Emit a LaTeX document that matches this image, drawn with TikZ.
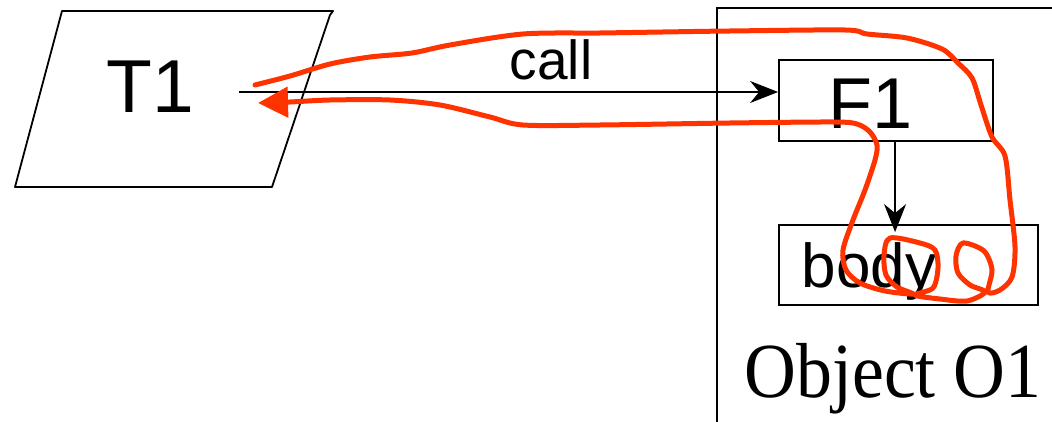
\documentclass[tikz,border=0pt]{standalone}
\usepackage{fontspec}
\setmainfont{Liberation Sans}
\newfontfamily\timesfont{Liberation Serif}
\usetikzlibrary{arrows.meta,calc}
\definecolor{pen}{RGB}{255,51,0}
\begin{document}
\begin{tikzpicture}[x=1pt,y=-1pt,
  boxline/.style={draw=black, line width=1.8pt},
  arr/.style={draw=black, line width=1.4pt, -{Stealth[length=28pt,width=22pt,inset=9pt]}},
  lbl/.style={anchor=base, inner sep=0pt},
  redpen/.style={draw=pen, line width=5pt, line cap=round, line join=round}]
\useasboundingbox (0,0) rectangle (1052,422);
\clip (0,0) rectangle (1052,422);
% T1 parallelogram
\draw[boxline, line join=round] (62,11) -- (333,11) -- (330,15) -- (272,187) -- (15,187) -- cycle;
\node[lbl, font=\fontsize{75}{80}\selectfont] (T1) at (150,113) {T1};
% Object O1 frame
\draw[boxline] (717,430) -- (717,8) -- (1060,8);
\node[lbl, font=\timesfont\fontsize{78}{80}\selectfont] (O1) at (893,397) {\scalebox{0.92}[1]{Object O1}};
% F1 box
\node[boxline, minimum width=214pt, minimum height=81pt, inner sep=0pt] (F1box) at (886,100.5) {};
\node[lbl, font=\fontsize{72}{76}\selectfont] (F1) at (871,129) {F1};
% body box
\node[boxline, minimum width=259pt, minimum height=80pt, inner sep=0pt] (bodybox) at (908.5,265) {};
\node[lbl, font=\fontsize{62}{66}\selectfont] (body) at (869,287) {body};
% call arrow
\coordinate (t1out) at (239,92);
\draw[arr] (t1out) -- (t1out -| F1box.west);
\node[lbl, font=\fontsize{55}{60}\selectfont] (call) at (551,80) {call};
% F1 -> body
\coordinate (fdown) at ($(F1box.south west)!0.542!(F1box.south east)$);
\draw[arr, shorten >=-8pt] (fdown) -- (fdown |- bodybox.north);
% red freehand annotation
\draw[redpen, -{Triangle[length=30pt,width=30pt]}] plot[smooth, tension=0.5] coordinates {
 (255,85) (290,76) (330,64) (370,57) (412,53) (450,45) (523,34) (600,33) (663,32)
 (730,31) (845,30) (867,34) (907,38) (942,49) (958,63) (972,78) (981,105) (992,137)
 (1005,156) (1010,200) (1015,247) (1012,277) (1000,290) (988,292)
 (992,270) (984,251) (963,243) (956,256) (958,273) (970,285) (985,292)
 (967,301) (940,299) (915,295)
 (933,288) (938,268) (935,250) (920,243) (890,238) (884,255) (886,275) (897,287) (913,294)
 (885,291) (860,283) (846,270) (843,250) (853,220) (865,190) (875,160) (877,145)
 (870,132) (857,124) (833,122) (730,123) (600,125) (523,125) (490,117) (440,105)
 (390,100) (330,100) (290,102) (258,103)};
\end{tikzpicture}
\end{document}
